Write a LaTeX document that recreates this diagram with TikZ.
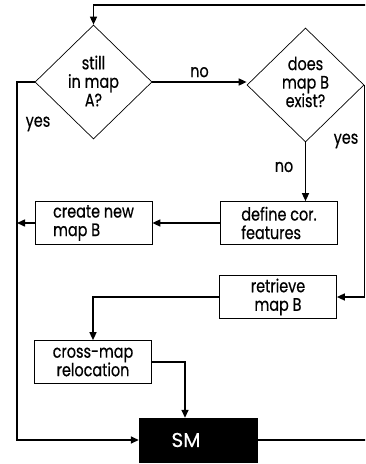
\documentclass[tikz,border=0pt]{standalone}
\usepackage{fontspec}
\setmainfont{Poppins}[FakeBold=0.5,FakeStretch=0.8]
\newfontfamily\widefont{Poppins}[FakeBold=0.5]
\usetikzlibrary{shapes.geometric,arrows.meta,calc}
\begin{document}
\begin{tikzpicture}[x=1pt,y=-1pt,
  every node/.style={font=\fontsize{18}{18.5}\selectfont, inner sep=0pt},
  decision/.style={draw, line width=0.7pt, diamond, minimum width=117pt, minimum height=114pt},
  stepbox/.style={draw, line width=0.7pt, minimum width=117pt, minimum height=43pt},
  conn/.style={line width=1.5pt, -{Triangle[length=8pt,width=7pt]}},
  lbl/.style={}]
  \useasboundingbox (0,0) rectangle (365,464);
  \clip (0,0) rectangle (365,464);

  % decisions
  \node[decision, label={[align=center, yshift=1pt]center:{still\\in map\\A?}}] (A) at (93.5,82) {};
  \node[decision, label={[align=center, yshift=3pt]center:{does\\map B\\exist?}}] (B) at (305.5,85) {};

  % process steps
  \node[stepbox, align=left] (define) at (279,223) {define cor.\\features};
  \node[stepbox, align=left] (create) at (93.5,223) {create new\\map B};
  \node[stepbox, align=center] (retrieve) at (278,297) {retrieve\\map B};
  \node[stepbox, align=center] (cross) at (93,362) {cross-map\\relocation};
  \node[draw, fill=black, minimum width=118pt, minimum height=44pt,
        label={[text=white, xshift=-12pt, font=\widefont\fontsize{20}{20}\selectfont]center:SM}] (SM) at (198,440) {};

  % routing helpers
  \coordinate (loopR) at (372,5);
  \coordinate (leftX) at (17,0);

  % loop back from SM to the first test
  \draw[conn] (SM.east) -| (loopR) -| (A.north);

  % still in map A? -> no
  \draw[conn] (A.east) -- node[lbl, above=4pt] (noA) {no} (A.east -| B.west);

  % still in map A? -> yes
  \draw[conn] (A.west) -- (A.west -| leftX) -- (leftX |- SM.west) -- (SM.west);
  \node[lbl] (yesA) at (38,124) {yes};

  % does map B exist? -> yes
  \draw[conn] (B.east) -- (B.east |- retrieve.east) -- (retrieve.east);
  \node[lbl] (yesB) at (346,141) {yes};

  % does map B exist? -> no
  \draw[conn] (B.south) -- (B.south |- define.north);
  \node[lbl] (noB) at (284,167) {no};

  % new map branch
  \draw[conn] (define.west) -- (create.east);
  \draw[conn] (create.west) -- (create.west -| leftX);

  % existing map branch
  \draw[conn] (retrieve.west) -- (retrieve.west -| cross.north) -- (cross.north);
  \draw[conn] (cross.east) -| ([xshift=-13pt]SM.north);
\end{tikzpicture}
\end{document}
